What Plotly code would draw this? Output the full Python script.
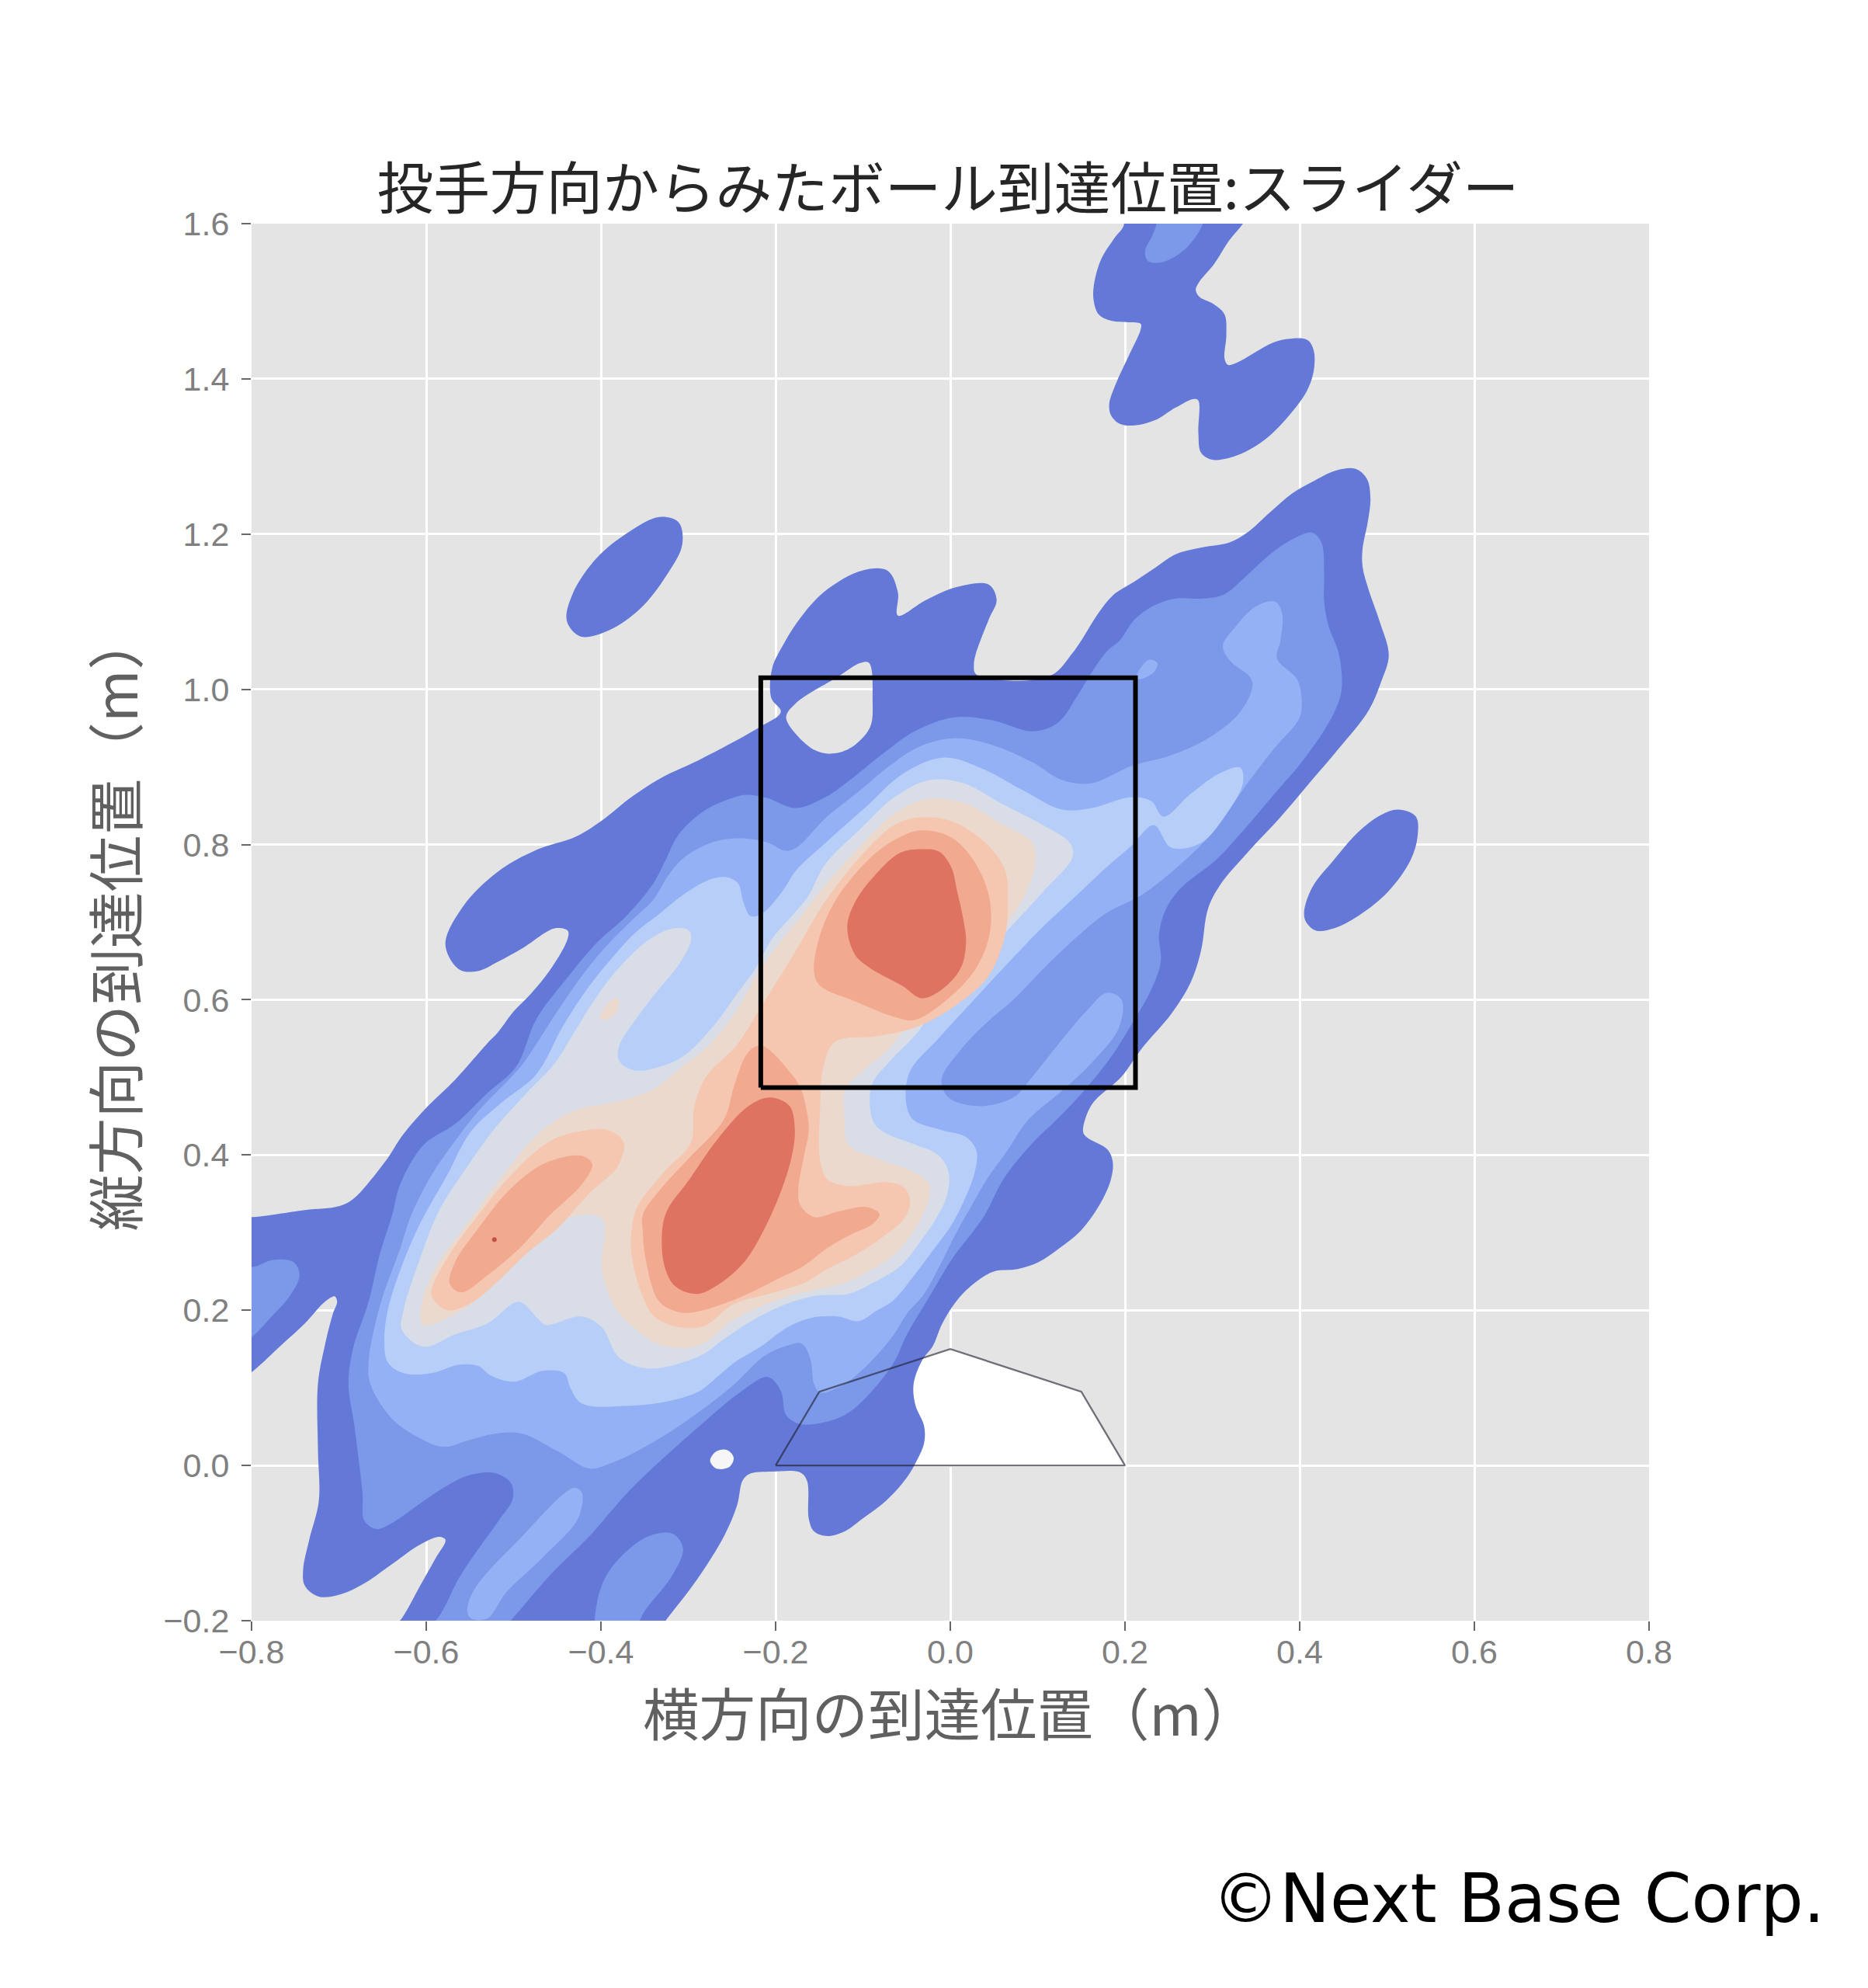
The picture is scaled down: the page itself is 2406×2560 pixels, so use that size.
import plotly.graph_objects as go

title_text = "投手方向からみたボール到達位置:スライダー"
x_label = "横方向の到達位置（m）"
y_label = "縦方向の到達位置（m）"
credit = "©Next Base Corp."
x_ticks = [-0.8, -0.6, -0.4, -0.2, 0.0, 0.2, 0.4, 0.6, 0.8]
y_ticks = [-0.2, 0.0, 0.2, 0.4, 0.6, 0.8, 1.0, 1.2, 1.4, 1.6]
band_colors = ["#6478D8", "#7C98E8", "#94B1F5", "#B7CFF8", "#D8DDE8", "#ECD9CE", "#F5C6B0", "#F1A98F", "#DE7362"]
peak_color = "#C25046"
peak_point = (-0.522, 0.291)

plate = [(-0.2, 0.0), (-0.15, 0.095), (0.0, 0.15), (0.15, 0.095), (0.2, 0.0), (-0.2, 0.0)]
zone = [(-0.217, 0.487), (-0.217, 1.015), (0.212, 1.015), (0.212, 0.487), (-0.217, 0.487)]

b1_main = [(-0.82,0.32),(-0.798,0.32),(-0.739,0.329),(-0.70,0.334),(-0.684,0.343),(-0.648,0.39),(-0.626,0.427),(-0.598,0.463),(-0.567,0.497),(-0.53,0.544),(-0.518,0.558),(-0.5,0.585),(-0.48,0.608),(-0.456,0.642),(-0.438,0.679),(-0.438,0.689),(-0.453,0.692),(-0.489,0.667),(-0.518,0.649),(-0.541,0.637),(-0.562,0.639),(-0.578,0.671),(-0.558,0.72),(-0.518,0.765),(-0.474,0.793),(-0.429,0.81),(-0.4,0.83),(-0.364,0.862),(-0.329,0.887),(-0.293,0.906),(-0.219,0.951),(-0.194,0.971),(-0.205,0.989),(-0.204,1.027),(-0.191,1.058),(-0.173,1.09),(-0.144,1.126),(-0.101,1.153),(-0.072,1.153),(-0.06,1.125),(-0.06,1.095),(-0.028,1.115),(0.008,1.132),(0.044,1.135),(0.053,1.115),(0.044,1.09),(0.029,1.045),(0.027,1.031),(0.029,1.02),(0.072,1.011),(0.117,1.019),(0.14,1.047),(0.15,1.063),(0.17,1.099),(0.187,1.122),(0.211,1.139),(0.235,1.157),(0.258,1.174),(0.289,1.183),(0.319,1.189),(0.34,1.202),(0.367,1.229),(0.391,1.252),(0.414,1.267),(0.442,1.282),(0.464,1.284),(0.477,1.271),(0.481,1.246),(0.478,1.216),(0.472,1.181),(0.472,1.158),(0.479,1.128),(0.492,1.086),(0.502,1.044),(0.493,1.009),(0.479,0.973),(0.445,0.924),(0.411,0.879),(0.377,0.834),(0.343,0.793),(0.309,0.748),(0.295,0.717),(0.287,0.663),(0.275,0.622),(0.253,0.582),(0.219,0.537),(0.196,0.501),(0.162,0.465),(0.152,0.43),(0.156,0.423),(0.18,0.407),(0.186,0.391),(0.184,0.369),(0.172,0.338),(0.149,0.302),(0.125,0.28),(0.101,0.262),(0.077,0.253),(0.05,0.25),(0.03,0.237),(0.014,0.221),(0.002,0.204),(-0.01,0.181),(-0.02,0.154),(-0.032,0.136),(-0.042,0.105),(-0.04,0.078),(-0.03,0.051),(-0.03,0.029),(-0.038,0.007),(-0.05,-0.016),(-0.073,-0.045),(-0.101,-0.069),(-0.121,-0.085),(-0.141,-0.091),(-0.156,-0.085),(-0.162,-0.069),(-0.164,-0.02),(-0.172,-0.009),(-0.204,-0.008),(-0.23,-0.011),(-0.238,-0.02),(-0.244,-0.051),(-0.259,-0.091),(-0.29,-0.147),(-0.324,-0.197),(-0.34,-0.22),(-0.645,-0.22),(-0.628,-0.197),(-0.607,-0.155),(-0.589,-0.119),(-0.578,-0.096),(-0.585,-0.092),(-0.607,-0.102),(-0.639,-0.127),(-0.671,-0.152),(-0.698,-0.166),(-0.723,-0.169),(-0.739,-0.155),(-0.741,-0.135),(-0.734,-0.096),(-0.723,-0.046),(-0.724,0.021),(-0.724,0.105),(-0.716,0.155),(-0.707,0.195),(-0.702,0.211),(-0.705,0.218),(-0.716,0.211),(-0.739,0.183),(-0.766,0.155),(-0.798,0.122),(-0.82,0.105),(-0.82,0.32)]
b1_hole = [(-0.188,0.964),(-0.174,0.939),(-0.154,0.921),(-0.137,0.917),(-0.115,0.924),(-0.092,0.951),(-0.089,0.987),(-0.093,1.034),(-0.103,1.034),(-0.129,1.016),(-0.177,0.982),(-0.188,0.964)]
b1_lobe_left = [(-0.439,1.088),(-0.432,1.124),(-0.405,1.169),(-0.369,1.202),(-0.333,1.222),(-0.311,1.215),(-0.307,1.186),(-0.326,1.145),(-0.355,1.104),(-0.391,1.076),(-0.423,1.068),(-0.439,1.088)]
b1_lobe_right = [(0.405,0.712),(0.414,0.744),(0.439,0.78),(0.467,0.816),(0.493,0.838),(0.513,0.845),(0.533,0.836),(0.535,0.811),(0.527,0.78),(0.501,0.739),(0.467,0.708),(0.439,0.692),(0.419,0.689),(0.408,0.699),(0.405,0.712)]
b1_top = [(0.345,1.62),(0.335,1.6),(0.319,1.578),(0.302,1.548),(0.285,1.525),(0.281,1.515),(0.285,1.506),(0.302,1.496),(0.314,1.483),(0.316,1.456),(0.314,1.426),(0.318,1.418),(0.33,1.422),(0.35,1.435),(0.37,1.447),(0.391,1.452),(0.409,1.45),(0.416,1.437),(0.416,1.41),(0.408,1.384),(0.391,1.357),(0.367,1.328),(0.343,1.309),(0.319,1.298),(0.299,1.296),(0.287,1.305),(0.284,1.33),(0.284,1.372),(0.279,1.374),(0.258,1.363),(0.235,1.347),(0.211,1.34),(0.194,1.342),(0.184,1.353),(0.182,1.368),(0.19,1.395),(0.204,1.429),(0.218,1.464),(0.218,1.471),(0.204,1.473),(0.184,1.475),(0.17,1.483),(0.164,1.502),(0.165,1.525),(0.173,1.555),(0.187,1.58),(0.199,1.6),(0.19,1.62),(0.345,1.62)]

b2_main = [(-0.61,-0.22),(-0.587,-0.197),(-0.562,-0.144),(-0.54,-0.107),(-0.517,-0.071),(-0.501,-0.043),(-0.503,-0.023),(-0.521,-0.01),(-0.549,-0.012),(-0.576,-0.026),(-0.607,-0.049),(-0.639,-0.074),(-0.657,-0.082),(-0.671,-0.071),(-0.673,-0.035),(-0.682,0.049),(-0.689,0.105),(-0.684,0.15),(-0.666,0.211),(-0.653,0.273),(-0.639,0.323),(-0.63,0.362),(-0.603,0.413),(-0.567,0.44),(-0.53,0.48),(-0.497,0.514),(-0.474,0.575),(-0.441,0.625),(-0.406,0.672),(-0.37,0.709),(-0.34,0.75),(-0.326,0.78),(-0.311,0.813),(-0.281,0.844),(-0.252,0.859),(-0.234,0.864),(-0.21,0.86),(-0.177,0.847),(-0.143,0.861),(-0.115,0.883),(-0.075,0.919),(-0.041,0.946),(0.004,0.964),(0.049,0.96),(0.094,0.946),(0.123,0.957),(0.145,0.991),(0.162,1.022),(0.18,1.05),(0.194,1.063),(0.211,1.09),(0.235,1.109),(0.258,1.117),(0.289,1.117),(0.313,1.122),(0.336,1.143),(0.364,1.172),(0.391,1.193),(0.414,1.202),(0.425,1.189),(0.428,1.151),(0.428,1.113),(0.433,1.082),(0.445,1.045),(0.448,1.0),(0.439,0.969),(0.405,0.91),(0.371,0.865),(0.337,0.82),(0.304,0.78),(0.264,0.744),(0.247,0.717),(0.239,0.685),(0.241,0.649),(0.23,0.613),(0.21,0.573),(0.185,0.528),(0.157,0.488),(0.123,0.447),(0.093,0.414),(0.061,0.369),(0.038,0.32),(0.002,0.266),(-0.022,0.221),(-0.05,0.168),(-0.065,0.132),(-0.097,0.087),(-0.121,0.065),(-0.152,0.054),(-0.174,0.054),(-0.188,0.065),(-0.194,0.096),(-0.209,0.114),(-0.241,0.094),(-0.286,0.052),(-0.322,0.016),(-0.367,-0.032),(-0.413,-0.091),(-0.458,-0.141),(-0.501,-0.197),(-0.52,-0.22),(-0.61,-0.22)]
b2_left = [(-0.82,0.26),(-0.798,0.256),(-0.775,0.265),(-0.752,0.262),(-0.745,0.245),(-0.757,0.217),(-0.777,0.192),(-0.798,0.167),(-0.82,0.15),(-0.82,0.26)]
b2_top = [(0.236,1.62),(0.292,1.62),(0.289,1.6),(0.279,1.58),(0.262,1.561),(0.241,1.55),(0.226,1.552),(0.223,1.565),(0.231,1.584),(0.236,1.6),(0.236,1.62)]
b2_bottom = [(-0.404,-0.174),(-0.39,-0.135),(-0.349,-0.093),(-0.318,-0.088),(-0.306,-0.107),(-0.318,-0.141),(-0.349,-0.186),(-0.363,-0.21),(-0.404,-0.21),(-0.404,-0.174)]

b3_main = [(-0.664,0.105),(-0.666,0.133),(-0.653,0.206),(-0.63,0.279),(-0.617,0.323),(-0.594,0.374),(-0.567,0.418),(-0.54,0.457),(-0.503,0.5),(-0.489,0.518),(-0.45,0.585),(-0.423,0.629),(-0.394,0.669),(-0.364,0.703),(-0.34,0.729),(-0.323,0.76),(-0.305,0.783),(-0.272,0.803),(-0.243,0.808),(-0.21,0.803),(-0.189,0.792),(-0.175,0.797),(-0.143,0.834),(-0.103,0.87),(-0.07,0.901),(-0.036,0.926),(0.004,0.937),(0.049,0.928),(0.094,0.906),(0.128,0.883),(0.162,0.879),(0.207,0.901),(0.253,0.915),(0.298,0.939),(0.332,0.971),(0.346,1.004),(0.343,1.016),(0.321,1.036),(0.312,1.056),(0.326,1.08),(0.35,1.107),(0.372,1.113),(0.38,1.097),(0.378,1.063),(0.374,1.04),(0.397,1.013),(0.402,0.991),(0.4,0.964),(0.371,0.924),(0.337,0.874),(0.304,0.82),(0.264,0.775),(0.219,0.735),(0.179,0.712),(0.145,0.681),(0.111,0.645),(0.072,0.6),(0.044,0.573),(0.01,0.533),(-0.01,0.497),(-0.002,0.474),(0.032,0.463),(0.072,0.474),(0.094,0.501),(0.123,0.542),(0.157,0.587),(0.179,0.609),(0.196,0.6),(0.193,0.564),(0.162,0.519),(0.128,0.483),(0.089,0.445),(0.065,0.405),(0.042,0.369),(0.026,0.338),(0.006,0.298),(-0.01,0.262),(-0.03,0.221),(-0.05,0.195),(-0.065,0.168),(-0.085,0.141),(-0.101,0.123),(-0.121,0.105),(-0.149,0.094),(-0.156,0.105),(-0.16,0.136),(-0.17,0.157),(-0.188,0.154),(-0.213,0.141),(-0.25,0.102),(-0.299,0.06),(-0.345,0.027),(-0.386,0.004),(-0.413,-0.004),(-0.449,0.018),(-0.49,0.041),(-0.521,0.041),(-0.553,0.032),(-0.58,0.024),(-0.607,0.035),(-0.639,0.06),(-0.664,0.105)]
b3_bottom = [(-0.553,-0.186),(-0.544,-0.158),(-0.494,-0.096),(-0.431,-0.029),(-0.422,-0.035),(-0.426,-0.068),(-0.467,-0.119),(-0.508,-0.163),(-0.53,-0.197),(-0.549,-0.197),(-0.553,-0.186)]
b3_small = [(0.213,1.016),(0.227,1.038),(0.237,1.034),(0.233,1.022),(0.216,1.013),(0.213,1.016)]

b4_main = [(-0.648,0.161),(-0.644,0.2),(-0.63,0.251),(-0.607,0.312),(-0.576,0.374),(-0.549,0.43),(-0.512,0.469),(-0.474,0.504),(-0.444,0.565),(-0.417,0.612),(-0.391,0.649),(-0.361,0.686),(-0.335,0.709),(-0.305,0.736),(-0.275,0.755),(-0.257,0.758),(-0.243,0.75),(-0.237,0.726),(-0.229,0.708),(-0.219,0.709),(-0.21,0.716),(-0.192,0.74),(-0.177,0.766),(-0.143,0.802),(-0.098,0.847),(-0.053,0.892),(-0.007,0.912),(0.038,0.897),(0.083,0.87),(0.128,0.845),(0.162,0.847),(0.207,0.861),(0.23,0.856),(0.244,0.836),(0.275,0.865),(0.309,0.892),(0.332,0.899),(0.335,0.879),(0.315,0.838),(0.287,0.802),(0.253,0.796),(0.233,0.825),(0.207,0.798),(0.179,0.771),(0.145,0.735),(0.106,0.694),(0.06,0.64),(0.027,0.6),(-0.013,0.551),(-0.047,0.506),(-0.05,0.463),(-0.042,0.445),(-0.01,0.432),(0.018,0.423),(0.03,0.405),(0.028,0.378),(0.018,0.347),(0.002,0.311),(-0.018,0.28),(-0.042,0.244),(-0.065,0.213),(-0.085,0.199),(-0.105,0.186),(-0.129,0.192),(-0.16,0.19),(-0.188,0.177),(-0.216,0.154),(-0.248,0.132),(-0.271,0.11),(-0.287,0.096),(-0.322,0.083),(-0.367,0.077),(-0.422,0.08),(-0.435,0.1),(-0.442,0.119),(-0.467,0.122),(-0.499,0.108),(-0.526,0.116),(-0.54,0.128),(-0.562,0.13),(-0.594,0.119),(-0.626,0.119),(-0.644,0.133),(-0.648,0.161)]

b5_main = [(-0.628,0.175),(-0.626,0.2),(-0.607,0.267),(-0.585,0.329),(-0.553,0.385),(-0.521,0.435),(-0.485,0.48),(-0.453,0.518),(-0.429,0.561),(-0.4,0.612),(-0.373,0.649),(-0.343,0.679),(-0.317,0.692),(-0.299,0.689),(-0.297,0.676),(-0.311,0.645),(-0.335,0.612),(-0.358,0.578),(-0.379,0.541),(-0.379,0.521),(-0.361,0.509),(-0.332,0.514),(-0.305,0.528),(-0.272,0.565),(-0.246,0.605),(-0.222,0.642),(-0.204,0.679),(-0.183,0.706),(-0.163,0.733),(-0.143,0.775),(-0.103,0.82),(-0.064,0.861),(-0.024,0.883),(0.015,0.879),(0.06,0.852),(0.106,0.825),(0.137,0.802),(0.14,0.784),(0.106,0.739),(0.066,0.69),(0.032,0.649),(-0.013,0.6),(-0.036,0.56),(-0.07,0.52),(-0.09,0.49),(-0.089,0.445),(-0.077,0.43),(-0.042,0.414),(-0.014,0.4),(-0.002,0.378),(-0.004,0.347),(-0.018,0.315),(-0.034,0.289),(-0.057,0.257),(-0.089,0.235),(-0.117,0.221),(-0.152,0.219),(-0.188,0.208),(-0.228,0.186),(-0.259,0.163),(-0.287,0.141),(-0.345,0.125),(-0.379,0.139),(-0.399,0.178),(-0.422,0.192),(-0.463,0.181),(-0.472,0.189),(-0.494,0.211),(-0.53,0.183),(-0.567,0.169),(-0.603,0.153),(-0.628,0.175)]

b6_main = [(-0.607,0.195),(-0.594,0.245),(-0.549,0.318),(-0.512,0.374),(-0.472,0.427),(-0.431,0.457),(-0.381,0.469),(-0.34,0.485),(-0.308,0.513),(-0.277,0.541),(-0.245,0.586),(-0.216,0.642),(-0.171,0.708),(-0.143,0.748),(-0.103,0.798),(-0.064,0.84),(-0.03,0.858),(0.015,0.854),(0.055,0.829),(0.094,0.802),(0.097,0.775),(0.083,0.73),(0.055,0.685),(0.027,0.649),(-0.007,0.613),(-0.047,0.569),(-0.07,0.537),(-0.098,0.51),(-0.12,0.485),(-0.121,0.445),(-0.117,0.414),(-0.081,0.394),(-0.042,0.378),(-0.024,0.362),(-0.026,0.338),(-0.042,0.302),(-0.065,0.271),(-0.089,0.253),(-0.121,0.235),(-0.156,0.226),(-0.188,0.217),(-0.248,0.188),(-0.287,0.155),(-0.331,0.155),(-0.363,0.178),(-0.385,0.206),(-0.399,0.251),(-0.399,0.318),(-0.44,0.318),(-0.481,0.284),(-0.53,0.225),(-0.567,0.195),(-0.603,0.181),(-0.607,0.195)]
b6_patch = [(-0.401,0.576),(-0.391,0.597),(-0.381,0.602),(-0.38,0.588),(-0.392,0.575),(-0.401,0.576)]

b7_main = [(-0.365,0.301),(-0.358,0.334),(-0.327,0.379),(-0.297,0.416),(-0.293,0.463),(-0.279,0.502),(-0.245,0.541),(-0.216,0.592),(-0.177,0.663),(-0.149,0.717),(-0.126,0.753),(-0.092,0.798),(-0.064,0.825),(-0.036,0.835),(0.004,0.829),(0.044,0.798),(0.063,0.766),(0.066,0.73),(0.063,0.685),(0.044,0.631),(0.004,0.591),(-0.041,0.564),(-0.086,0.553),(-0.132,0.546),(-0.146,0.51),(-0.149,0.461),(-0.149,0.392),(-0.141,0.369),(-0.117,0.36),(-0.073,0.365),(-0.053,0.358),(-0.046,0.34),(-0.053,0.318),(-0.073,0.298),(-0.109,0.271),(-0.141,0.253),(-0.168,0.235),(-0.208,0.221),(-0.248,0.208),(-0.286,0.178),(-0.336,0.189),(-0.354,0.223),(-0.365,0.273),(-0.365,0.301)]
b7_left = [(-0.594,0.22),(-0.576,0.267),(-0.54,0.323),(-0.503,0.374),(-0.458,0.418),(-0.422,0.431),(-0.392,0.432),(-0.374,0.416),(-0.381,0.385),(-0.413,0.351),(-0.449,0.306),(-0.485,0.273),(-0.521,0.234),(-0.549,0.209),(-0.576,0.2),(-0.594,0.22)]

b8_main = [(-0.352,0.301),(-0.352,0.323),(-0.331,0.357),(-0.299,0.396),(-0.259,0.446),(-0.247,0.491),(-0.231,0.533),(-0.216,0.541),(-0.183,0.506),(-0.171,0.485),(-0.164,0.454),(-0.162,0.432),(-0.168,0.396),(-0.174,0.356),(-0.172,0.336),(-0.156,0.32),(-0.129,0.327),(-0.097,0.333),(-0.081,0.324),(-0.089,0.311),(-0.113,0.298),(-0.141,0.28),(-0.168,0.257),(-0.2,0.239),(-0.24,0.217),(-0.287,0.199),(-0.308,0.197),(-0.333,0.211),(-0.349,0.267),(-0.352,0.301)]
b8_top = [(-0.036,0.818),(-0.002,0.811),(0.024,0.784),(0.044,0.735),(0.045,0.685),(0.029,0.64),(-0.002,0.602),(-0.041,0.574),(-0.064,0.578),(-0.109,0.598),(-0.149,0.618),(-0.156,0.636),(-0.151,0.676),(-0.135,0.721),(-0.109,0.762),(-0.075,0.798),(-0.036,0.818)]
b8_left = [(-0.573,0.234),(-0.567,0.262),(-0.54,0.306),(-0.503,0.357),(-0.463,0.39),(-0.422,0.399),(-0.41,0.388),(-0.422,0.362),(-0.458,0.323),(-0.494,0.279),(-0.53,0.245),(-0.56,0.223),(-0.573,0.234)]

b9_main = [(-0.206,0.474),(-0.184,0.463),(-0.178,0.432),(-0.182,0.396),(-0.196,0.347),(-0.216,0.298),(-0.236,0.262),(-0.263,0.235),(-0.29,0.221),(-0.315,0.231),(-0.327,0.256),(-0.33,0.301),(-0.324,0.329),(-0.299,0.368),(-0.268,0.418),(-0.231,0.463),(-0.206,0.474)]
b9_top = [(-0.033,0.794),(-0.013,0.791),(0.001,0.771),(0.008,0.739),(0.015,0.703),(0.018,0.674),(0.012,0.641),(-0.01,0.613),(-0.033,0.602),(-0.055,0.618),(-0.092,0.641),(-0.109,0.658),(-0.118,0.694),(-0.109,0.726),(-0.089,0.757),(-0.058,0.789),(-0.033,0.794)]

small_gap = [(-0.275,0.006),(-0.268,0.018),(-0.256,0.02),(-0.248,0.01),(-0.253,-0.002),(-0.268,-0.004),(-0.275,0.006)]

bands = [
    [b1_main, b1_hole, b1_lobe_left, b1_lobe_right, b1_top],
    [b2_main, b2_left, b2_top, b2_bottom],
    [b3_main, b3_bottom, b3_small],
    [b4_main],
    [b5_main],
    [b6_main, b6_patch],
    [b7_main, b7_left],
    [b8_main, b8_top, b8_left],
    [b9_main, b9_top],
]


def flatten(parts):
    xs, ys = [], []
    for part in parts:
        xs += [p[0] for p in part] + [None]
        ys += [p[1] for p in part] + [None]
    return xs, ys


W, H = 2406, 2560
fig = go.Figure()
fig.add_trace(go.Scatter(x=[p[0] for p in plate], y=[p[1] for p in plate], mode="lines", fill="toself",
                         fillcolor="#FFFFFF", line=dict(color="rgba(0,0,0,0)", width=0), hoverinfo="skip", showlegend=False))
for parts, color in zip(bands, band_colors):
    xs, ys = flatten(parts)
    fig.add_trace(go.Scatter(x=xs, y=ys, mode="lines", fill="toself", fillcolor=color,
                             line=dict(color=color, width=0, shape="spline", smoothing=1.0),
                             hoverinfo="skip", showlegend=False))
fig.add_trace(go.Scatter(x=[p[0] for p in small_gap], y=[p[1] for p in small_gap], mode="lines", fill="toself",
                         fillcolor="#F6F6F6", line=dict(width=0, shape="spline"), hoverinfo="skip", showlegend=False))
fig.add_trace(go.Scatter(x=[peak_point[0]], y=[peak_point[1]], mode="markers",
                         marker=dict(color=peak_color, size=6), hoverinfo="skip", showlegend=False))
fig.add_trace(go.Scatter(x=[p[0] for p in plate], y=[p[1] for p in plate], mode="lines",
                         line=dict(color="rgba(30,30,45,0.62)", width=2.3), hoverinfo="skip", showlegend=False))
fig.add_trace(go.Scatter(x=[p[0] for p in zone], y=[p[1] for p in zone], mode="lines",
                         line=dict(color="#000000", width=6), hoverinfo="skip", showlegend=False))

tick_font = dict(family="Liberation Sans, sans-serif", size=43, color="#808080")
axis_common = dict(showgrid=True, gridcolor="#FFFFFF", gridwidth=2.5, zeroline=False, showline=False,
                   ticks="outside", ticklen=12, tickwidth=2, tickcolor="#666666", tickfont=tick_font)
cjk = "Noto Sans CJK JP"
fig.update_layout(
    width=W, height=H,
    margin=dict(l=316, r=290, t=280, b=481, pad=0),
    paper_bgcolor="#FFFFFF", plot_bgcolor="#E4E4E4",
    showlegend=False,
    title=dict(text=title_text, x=1213 / W, y=1 - 236 / H, xref="container", yref="container", xanchor="center", yanchor="middle",
               font=dict(family=cjk, size=72.7, color="#262626")),
    xaxis=dict(range=[-0.8, 0.8], tickvals=x_ticks, ticktext=[f"{v:.1f}".replace("-", "\u2212") for v in x_ticks],
               ticklabelstandoff=-10,
               title=dict(text=x_label, font=dict(family=cjk, size=72.5, color="#606060"), standoff=0), **axis_common),
    yaxis=dict(range=[-0.2, 1.6], tickvals=y_ticks, ticktext=[f"{v:.1f}".replace("-", "\u2212") for v in y_ticks],
               ticklabelstandoff=7,
               title=dict(text=y_label, font=dict(family=cjk, size=72.8, color="#606060"), standoff=9), **axis_common),
    annotations=[dict(text=credit, xref="paper", yref="paper", x=(2344 - 316) / 1800, y=(2079 - 2490) / 1799,
                      xanchor="right", yanchor="bottom", showarrow=False,
                      font=dict(family="DejaVu Sans", size=87, color="#000000"))],
)
fig.write_html("out.html")
